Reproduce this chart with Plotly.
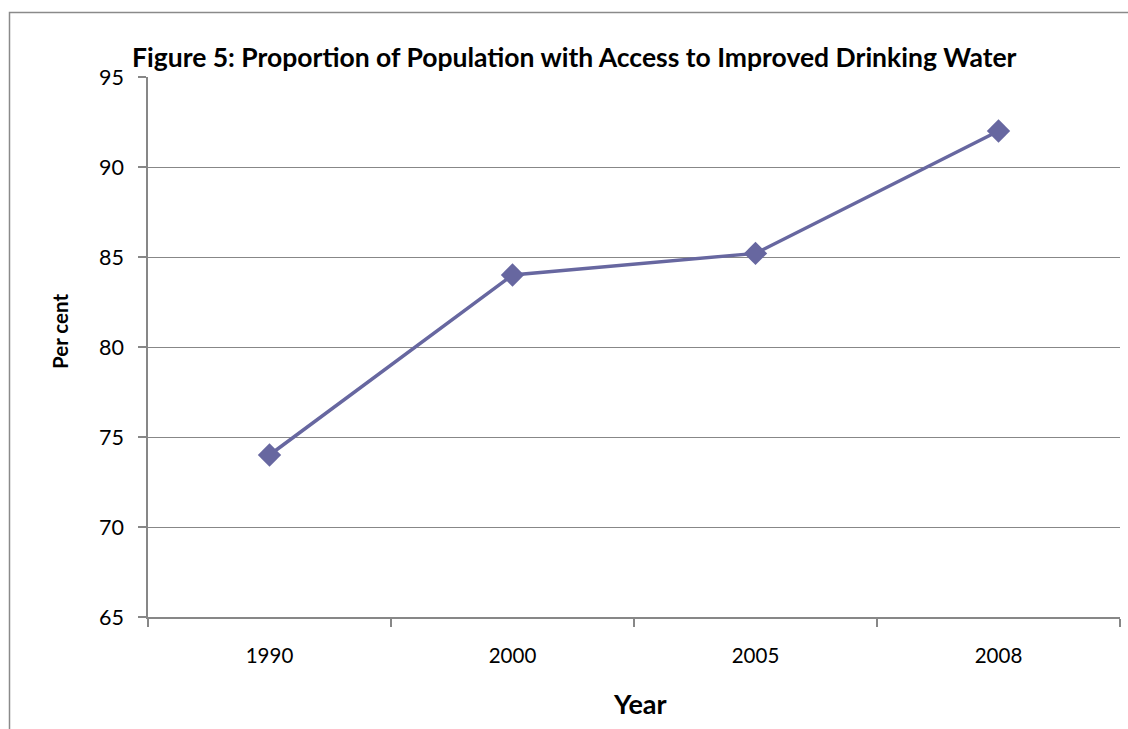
import plotly.graph_objects as go

years = ["1990", "2000", "2005", "2008"]
values = [74, 84, 85.2, 92]
y_ticks = [65, 70, 75, 80, 85, 90, 95]

W, H = 1128, 729
L, R, T, B = 148, 1120, 77, 617
pw, ph = R - L, B - T

def px(x):
    return (x - L) / pw

def py(y):
    return (B - y) / ph

FONT = "Lato, Carlito, Calibri, sans-serif"
LINE = "#6767A0"
GRID = "#878787"

fig = go.Figure()
fig.add_trace(go.Scatter(
    x=years, y=values, mode="lines+markers",
    line=dict(color=LINE, width=3.5),
    marker=dict(symbol="diamond", size=18, color=LINE),
    showlegend=False,
))

fig.update_layout(
    width=W, height=H,
    margin=dict(l=L, r=W - R, t=T, b=H - B),
    paper_bgcolor="white", plot_bgcolor="white",
    font=dict(family=FONT, color="black", size=20),
    xaxis=dict(
        type="category", range=[-0.5, 3.5],
        showline=True, linecolor=GRID, linewidth=1.5,
        showgrid=False, ticks="outside", tickson="boundaries",
        ticklen=8, tickcolor=GRID, tickwidth=1.5,
        ticklabelstandoff=20,
        tickfont=dict(size=20.5, family=FONT),
    ),
    yaxis=dict(
        range=[65, 95], tickvals=y_ticks,
        showline=True, linecolor=GRID, linewidth=1.5,
        showgrid=True, gridcolor=GRID, gridwidth=1,
        ticks="outside", ticklen=8, tickcolor=GRID, tickwidth=1.5,
        ticklabelstandoff=10,
        tickfont=dict(size=21.5, family=FONT),
        zeroline=False,
    ),
    shapes=[dict(
        type="rect", xref="paper", yref="paper",
        x0=px(9.5), x1=px(1140), y0=py(740), y1=py(12.5),
        line=dict(color="#8a8a8a", width=1.5), layer="below",
    )],
    annotations=[
        dict(text="<b>Figure 5: Proportion of Population with Access to Improved Drinking Water</b>",
             xref="paper", yref="paper", x=px(574), y=py(57),
             xanchor="center", yanchor="middle", showarrow=False,
             font=dict(size=26.5, family=FONT)),
        dict(text="<b>Per cent</b>", xref="paper", yref="paper",
             x=px(60), y=py(332), xanchor="center", yanchor="middle",
             textangle=-90, showarrow=False, font=dict(size=20.5, family=FONT)),
        dict(text="<b>Year</b>", xref="paper", yref="paper",
             x=px(640), y=py(703), xanchor="center", yanchor="middle",
             showarrow=False, font=dict(size=27, family=FONT)),
    ],
)

fig.write_html("out.html")
